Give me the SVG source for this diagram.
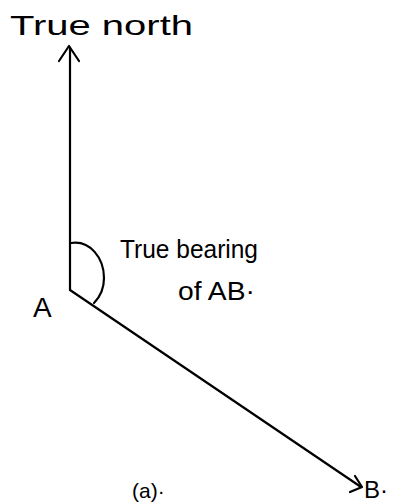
<svg xmlns="http://www.w3.org/2000/svg" width="397" height="504" viewBox="0 0 397 504">
<style>
.ln{stroke:#000;stroke-width:2.2;fill:none;stroke-linecap:round;stroke-linejoin:round}
text{font-family:"Liberation Sans",Arial,sans-serif;fill:#000}
</style>
<rect width="397" height="504" fill="#fff"/>
<g id="connectors">
<path class="ln" d="M70,290 L70,48"/>
<path class="ln" d="M59,61 L69,46 L79,61"/>
<path class="ln" d="M70,290 L361,487"/>
<path class="ln" d="M355,476 L362,487 L350,492"/>
<path class="ln" d="M71,243 C90,240 104,258 104,278 C104,290 99,298 94,303"/>
</g>
<g id="north-label"><text x="10" y="35" font-size="28" textLength="183" lengthAdjust="spacingAndGlyphs">True north</text></g>
<g id="bearing-label">
<text x="120" y="258" font-size="26" textLength="138" lengthAdjust="spacingAndGlyphs">True bearing</text>
<text x="178" y="300" font-size="26" textLength="77" lengthAdjust="spacingAndGlyphs">of AB·</text>
</g>
<g id="A"><text x="33" y="317" font-size="28">A</text></g>
<g id="B"><text x="364" y="498" font-size="24">B·</text></g>
<g id="caption"><text x="132" y="498" font-size="21">(a)·</text></g>
</svg>
